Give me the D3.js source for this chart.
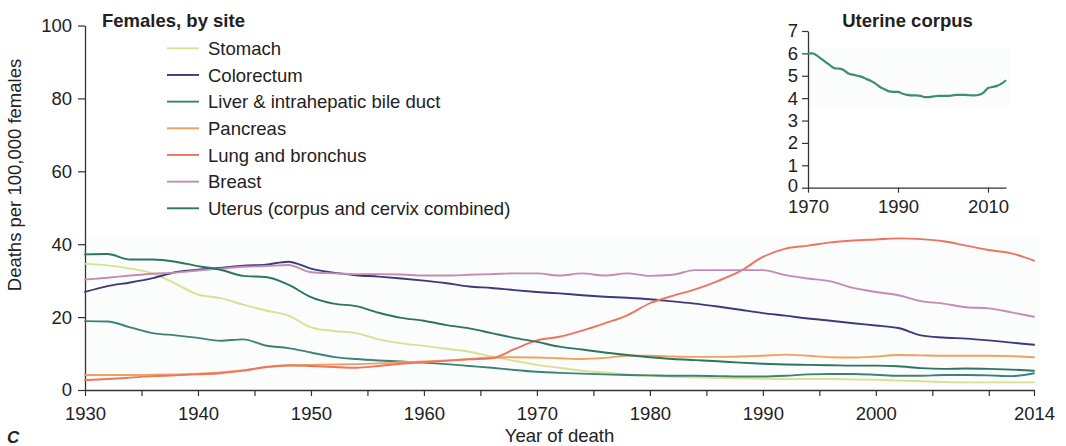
<!DOCTYPE html>
<html>
<head>
<meta charset="utf-8">
<script src="https://cdn.jsdelivr.net/npm/d3@7"></script>
<style>
  html, body { margin: 0; padding: 0; background: #ffffff; }
  svg { display: block; }
  text { font-family: "Liberation Sans", Arial, Helvetica, sans-serif; fill: #222; }
</style>
</head>
<body>
<svg id="chart" width="1066" height="446"></svg>
<script>
// ---------------- DATA ----------------
const years = [1930,1932,1934,1936,1938,1940,1942,1944,1946,1948,
               1950,1952,1954,1956,1958,1960,1962,1964,1966,1968,
               1970,1972,1974,1976,1978,1980,1982,1984,1986,1988,
               1990,1992,1994,1996,1998,2000,2002,2004,2006,2008,
               2010,2012,2014];

const stomach = [34.6,34.2,33.3,32.0,29.2,26.2,25.2,23.4,21.8,20.4,
                 17.2,16.2,15.6,13.9,12.8,12.1,11.3,10.5,9.2,8.0,
                 6.9,6.1,5.3,4.8,4.3,3.9,3.6,3.4,3.3,3.2,
                 3.1,3.0,3.0,3.0,2.9,2.8,2.6,2.4,2.2,2.1,
                 2.1,2.1,2.1];
const colorectum = [26.9,28.5,29.5,30.7,32.3,33.0,33.5,34.1,34.4,35.2,
                    33.3,32.2,31.5,31.1,30.6,30.0,29.3,28.4,28.0,27.4,
                    26.9,26.5,26.0,25.6,25.3,24.9,24.3,23.7,22.9,22.0,
                    21.1,20.4,19.6,19.0,18.3,17.7,17.0,15.0,14.4,14.1,
                    13.6,13.0,12.4];
const liver = [18.9,18.8,17.2,15.6,15.0,14.3,13.5,13.9,12.2,11.5,
               10.3,9.1,8.5,8.1,7.8,7.5,7.1,6.6,6.1,5.5,
               5.0,4.7,4.5,4.3,4.1,4.0,3.9,3.9,3.8,3.7,
               3.7,3.9,4.3,4.4,4.4,4.2,3.9,3.9,4.1,4.1,
               4.0,3.8,4.6];
const pancreas = [4.1,4.1,4.1,4.2,4.3,4.5,4.8,5.4,6.2,6.7,
                  6.9,7.0,7.1,7.3,7.6,7.8,8.1,8.5,8.9,9.0,
                  8.9,8.7,8.5,8.8,9.4,9.4,9.2,9.1,9.1,9.2,
                  9.4,9.7,9.4,9.0,8.9,9.2,9.6,9.5,9.4,9.4,
                  9.4,9.3,9.0];
const lung = [2.7,3.0,3.4,3.8,4.0,4.3,4.6,5.3,6.3,6.8,
              6.6,6.3,6.1,6.6,7.2,7.6,8.0,8.4,8.7,11.2,
              13.6,14.6,16.3,18.3,20.5,23.8,25.8,27.6,29.9,32.6,
              36.5,38.8,39.6,40.5,41.0,41.3,41.6,41.4,40.8,39.6,
              38.4,37.5,35.5];
const breast = [30.3,30.8,31.4,31.9,32.2,32.8,33.3,33.8,34.0,34.3,
                32.3,32.0,31.8,31.8,31.7,31.4,31.4,31.6,31.8,32.0,
                32.0,31.4,32.0,31.4,32.0,31.3,31.6,32.9,32.9,32.9,
                32.9,31.5,30.6,29.8,28.0,26.9,26.0,24.4,23.7,22.7,
                22.4,21.3,20.1];
const uterus = [37.2,37.3,35.8,35.8,35.2,34.0,33.0,31.3,31.0,28.9,
                25.5,23.7,23.0,21.2,19.8,19.0,17.8,16.9,15.6,14.3,
                13.2,11.9,11.1,10.3,9.6,9.0,8.5,8.2,7.9,7.5,
                7.2,7.0,6.9,6.8,6.7,6.7,6.5,6.0,5.8,5.9,
                5.8,5.6,5.3];

const seriesNames = ["Stomach","Colorectum","Liver & intrahepatic bile duct","Pancreas",
                     "Lung and bronchus","Breast","Uterus (corpus and cervix combined)"];
const seriesValues = [stomach, colorectum, liver, pancreas, lung, breast, uterus];
const seriesColors = ["#d8e191","#3c3a7c","#3d8279","#f0a15c","#ee7462","#c58bb2","#2c7560"];

const yTicks = [0,20,40,60,80,100];
const xTicksAll = [1930,1935,1940,1945,1950,1955,1960,1965,1970,1975,1980,1985,1990,1995,2000,2005,2010,2014];
const xTickLabels = [1930,1940,1950,1960,1970,1980,1990,2000,2014];

// inset: uterine corpus
const insetYears = [1970,1971,1972,1973,1974,1975,1976,1977,1978,1979,
                    1980,1981,1982,1983,1984,1985,1986,1987,1988,1989,
                    1990,1991,1992,1993,1994,1995,1996,1997,1998,1999,
                    2000,2001,2002,2003,2004,2005,2006,2007,2008,2009,
                    2010,2011,2012,2013,2014];
const uterineCorpus = [6.0,6.0,5.9,5.75,5.6,5.45,5.33,5.32,5.25,5.1,
                       5.05,5.0,4.95,4.85,4.77,4.65,4.5,4.4,4.3,4.28,
                       4.28,4.2,4.15,4.12,4.12,4.1,4.05,4.05,4.08,4.1,
                       4.1,4.1,4.12,4.15,4.15,4.15,4.13,4.12,4.15,4.25,
                       4.45,4.5,4.55,4.65,4.8];
const insetYTicks = [0,1,2,3,4,5,6,7];
const insetXTicks = [1970,1990,2010];

// ---------------- DRAW ----------------
const svg = d3.select("#chart");
const FS = 18.5;

const x = d3.scaleLinear().domain([1930, 2014]).range([85, 1034]);
const y = d3.scaleLinear().domain([0, 100]).range([390, 25.5]);

// very faint backdrop band (as in the reference)
svg.append("rect").attr("x", x(1930)).attr("y", y(42)).attr("width", x(2014) - x(1930) + 6)
  .attr("height", y(1) - y(42)).attr("fill", "#fbfdfd");

// axes
const yAxis = d3.axisLeft(y).tickValues(yTicks).tickSize(7).tickPadding(6).tickSizeOuter(0);
const gy = svg.append("g").attr("transform", `translate(${x(1930)},0)`).call(yAxis);
const xAxis = d3.axisBottom(x).tickValues(xTicksAll).tickSize(6).tickPadding(11).tickSizeOuter(0)
  .tickFormat(d => xTickLabels.includes(d) ? String(d) : "");
const gx = svg.append("g").attr("transform", `translate(0,${y(0)})`).call(xAxis);
[gx, gy].forEach(g => {
  g.selectAll("path.domain").attr("stroke", "#333").attr("stroke-width", 1.3);
  g.selectAll(".tick line").attr("stroke", "#333").attr("stroke-width", 1.2);
  g.selectAll(".tick text").attr("font-size", FS).attr("fill", "#222")
    .attr("font-family", '"Liberation Sans", Arial, sans-serif');
});

// lines
const line = d3.line().x((d, i) => x(years[i])).y(d => y(d)).curve(d3.curveMonotoneX);
seriesValues.forEach((vals, k) => {
  svg.append("path").datum(vals).attr("d", line)
    .attr("fill", "none").attr("stroke", seriesColors[k]).attr("stroke-width", 1.9)
    .attr("stroke-linejoin", "round").attr("stroke-linecap", "round");
});

// legend
svg.append("text").attr("x", 102).attr("y", 26.5).attr("font-size", FS).attr("font-weight", "bold")
  .text("Females, by site");
const legendY = d3.scaleLinear().domain([0, 6]).range([48.3, 208.3]);
seriesNames.forEach((name, k) => {
  const ly = legendY(k);
  svg.append("line").attr("x1", 167).attr("x2", 199).attr("y1", ly).attr("y2", ly)
    .attr("stroke", seriesColors[k]).attr("stroke-width", 1.9);
  svg.append("text").attr("x", 208).attr("y", ly + 6.8).attr("font-size", FS).text(name);
});

// axis titles
svg.append("text").attr("x", (x(1930) + x(2014)) / 2).attr("y", 441.5).attr("text-anchor", "middle")
  .attr("font-size", FS).text("Year of death");
svg.append("text").attr("transform", "translate(20.5,175) rotate(-90)").attr("text-anchor", "middle")
  .attr("font-size", FS).text("Deaths per 100,000 females");
svg.append("text").attr("x", 7).attr("y", 443).attr("font-size", 17).attr("font-weight", "bold")
  .attr("font-style", "italic").text("C");

// ---------------- INSET ----------------
const xi = d3.scaleLinear().domain([1970, 2014]).range([808, 1006]);
const yi = d3.scaleLinear().domain([0, 7]).range([187.7, 31]);

svg.append("rect").attr("x", xi(1970)).attr("y", yi(6.3)).attr("width", xi(2014) - xi(1970) + 4)
  .attr("height", yi(3.6) - yi(6.3)).attr("fill", "#fbfdfd");

const giy = svg.append("g").attr("transform", `translate(${xi(1970)},0)`)
  .call(d3.axisLeft(yi).tickValues(insetYTicks).tickSize(6).tickPadding(4).tickSizeOuter(0)
    .tickFormat(d3.format("d")));
const gix = svg.append("g").attr("transform", `translate(0,${yi(0)})`)
  .call(d3.axisBottom(xi).tickValues(insetXTicks).tickSize(5).tickPadding(7).tickSizeOuter(0)
    .tickFormat(d3.format("d")));
[gix, giy].forEach(g => {
  g.selectAll("path.domain").attr("stroke", "#333").attr("stroke-width", 1.3);
  g.selectAll(".tick line").attr("stroke", "#333").attr("stroke-width", 1.2);
  g.selectAll(".tick text").attr("font-size", FS).attr("fill", "#222")
    .attr("font-family", '"Liberation Sans", Arial, sans-serif');
});
// nudge the inset's bottom "0" label up slightly so it clears the year labels
giy.selectAll(".tick").filter(d => d === 0).select("text").attr("dy", "0.22em");

const lineI = d3.line().x((d, i) => xi(insetYears[i])).y(d => yi(d)).curve(d3.curveMonotoneX);
svg.append("path").datum(uterineCorpus).attr("d", lineI).attr("fill", "none")
  .attr("stroke", "#3f8a78").attr("stroke-width", 2.2).attr("stroke-linejoin", "round");

svg.append("text").attr("x", 907.5).attr("y", 26.5).attr("text-anchor", "middle")
  .attr("font-size", FS).attr("font-weight", "bold").text("Uterine corpus");
</script>
</body>
</html>
